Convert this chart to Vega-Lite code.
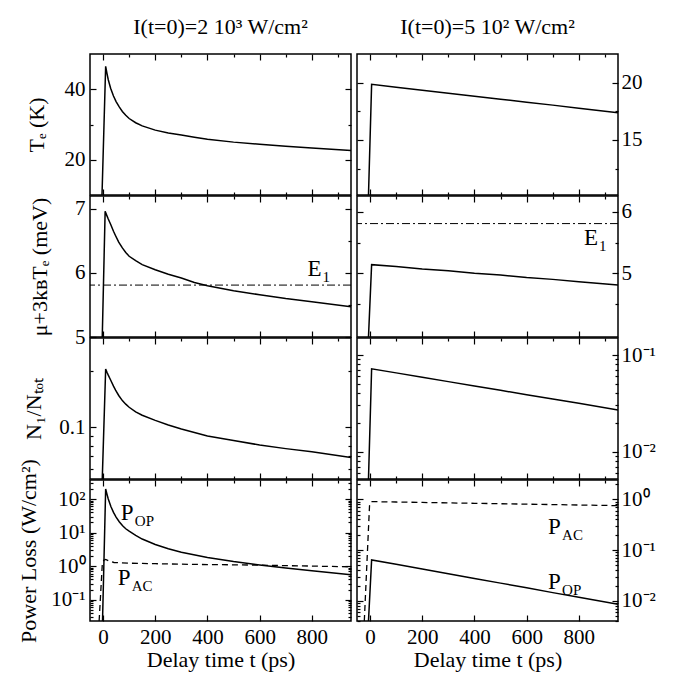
{
  "$schema": "https://vega.github.io/schema/vega-lite/v6.json",
  "padding": {"left": 16, "top": 15, "right": 5, "bottom": 5},
  "background": "white",
  "config": {
    "font": "Liberation Serif",
    "view": {"stroke": "black", "strokeWidth": 1.5},
    "axis": {"domain": false, "grid": false, "labelFont": "Liberation Serif", "titleFont": "Liberation Serif", "labelFontSize": 21, "titleFontSize": 22, "titleFontWeight": "normal", "labelColor": "black", "titleColor": "black", "tickColor": "black", "tickWidth": 1.2, "labelPadding": 11, "titlePadding": 4},
    "title": {"font": "Liberation Serif", "fontSize": 22, "fontWeight": "normal", "color": "black", "anchor": "middle", "frame": "group", "offset": 14},
    "text": {"font": "Liberation Serif", "color": "black"}
  },
  "datasets": {
    "L_TE": [{"t":-4,"v":10},{"t":10,"v":46.5},{"t":15,"v":44.5},{"t":20,"v":42.7},{"t":29,"v":40.3},{"t":40,"v":38.1},{"t":50,"v":36.5},{"t":62,"v":35.0},{"t":74,"v":33.7},{"t":87,"v":32.6},{"t":100,"v":31.7},{"t":125,"v":30.5},{"t":150,"v":29.6},{"t":200,"v":28.4},{"t":250,"v":27.6},{"t":300,"v":27.0},{"t":350,"v":26.4},{"t":400,"v":25.8},{"t":500,"v":25.0},{"t":600,"v":24.4},{"t":700,"v":23.8},{"t":800,"v":23.3},{"t":950,"v":22.6}],
    "L_MU": [{"t":-3,"v":5.0},{"t":8,"v":6.96},{"t":15,"v":6.89},{"t":20,"v":6.84},{"t":29,"v":6.76},{"t":40,"v":6.65},{"t":48,"v":6.58},{"t":60,"v":6.48},{"t":74,"v":6.39},{"t":87,"v":6.32},{"t":100,"v":6.26},{"t":125,"v":6.19},{"t":150,"v":6.13},{"t":200,"v":6.05},{"t":250,"v":5.98},{"t":300,"v":5.92},{"t":350,"v":5.85},{"t":400,"v":5.8},{"t":500,"v":5.72},{"t":600,"v":5.66},{"t":700,"v":5.6},{"t":800,"v":5.55},{"t":950,"v":5.47}],
    "L_N1": [{"t":-3,"v":0.053},{"t":10,"v":0.205},{"t":15,"v":0.197},{"t":20,"v":0.19},{"t":29,"v":0.179},{"t":40,"v":0.166},{"t":48,"v":0.158},{"t":60,"v":0.148},{"t":74,"v":0.139},{"t":87,"v":0.133},{"t":100,"v":0.128},{"t":125,"v":0.121},{"t":150,"v":0.116},{"t":200,"v":0.109},{"t":250,"v":0.103},{"t":300,"v":0.098},{"t":400,"v":0.09},{"t":500,"v":0.085},{"t":600,"v":0.0805},{"t":700,"v":0.077},{"t":800,"v":0.074},{"t":950,"v":0.069}],
    "L_POP": [{"t":-2,"v":0.023},{"t":10,"v":200},{"t":15,"v":140},{"t":20,"v":100},{"t":30,"v":60},{"t":40,"v":40},{"t":50,"v":29},{"t":62,"v":21},{"t":75,"v":16},{"t":87,"v":13},{"t":100,"v":11},{"t":125,"v":8.2},{"t":150,"v":6.4},{"t":200,"v":4.4},{"t":250,"v":3.3},{"t":300,"v":2.6},{"t":400,"v":1.8},{"t":500,"v":1.36},{"t":600,"v":1.08},{"t":700,"v":0.88},{"t":800,"v":0.72},{"t":950,"v":0.55}],
    "L_PAC": [{"t":-15,"v":0.023},{"t":-3,"v":1.1},{"t":3,"v":1.5},{"t":10,"v":1.58},{"t":20,"v":1.45},{"t":42,"v":1.28},{"t":100,"v":1.22},{"t":200,"v":1.18},{"t":300,"v":1.14},{"t":400,"v":1.11},{"t":500,"v":1.09},{"t":600,"v":1.07},{"t":700,"v":1.03},{"t":800,"v":1.0},{"t":950,"v":0.95}],
    "R_TE": [{"t":-6,"v":10.2},{"t":6,"v":19.85},{"t":100,"v":19.6},{"t":200,"v":19.34},{"t":300,"v":19.08},{"t":400,"v":18.82},{"t":500,"v":18.56},{"t":600,"v":18.3},{"t":700,"v":18.04},{"t":800,"v":17.77},{"t":950,"v":17.38}],
    "R_MU": [{"t":-6,"v":3.96},{"t":6,"v":5.14},{"t":100,"v":5.11},{"t":200,"v":5.07},{"t":300,"v":5.04},{"t":400,"v":5.0},{"t":500,"v":4.97},{"t":600,"v":4.93},{"t":700,"v":4.9},{"t":800,"v":4.86},{"t":950,"v":4.81}],
    "R_N1": [{"t":-6,"v":0.0052},{"t":6,"v":0.0719},{"t":100,"v":0.0653},{"t":200,"v":0.0589},{"t":300,"v":0.053},{"t":400,"v":0.0478},{"t":500,"v":0.0431},{"t":600,"v":0.0388},{"t":700,"v":0.035},{"t":800,"v":0.0316},{"t":950,"v":0.027}],
    "R_POP": [{"t":-6,"v":0.004},{"t":6,"v":0.064},{"t":100,"v":0.0524},{"t":200,"v":0.0423},{"t":300,"v":0.0341},{"t":400,"v":0.0276},{"t":500,"v":0.0223},{"t":600,"v":0.018},{"t":700,"v":0.0145},{"t":800,"v":0.0117},{"t":950,"v":0.0085}],
    "R_PAC": [{"t":-22,"v":0.004},{"t":-2,"v":0.75},{"t":5,"v":0.9},{"t":100,"v":0.884},{"t":200,"v":0.867},{"t":300,"v":0.85},{"t":400,"v":0.834},{"t":500,"v":0.818},{"t":600,"v":0.802},{"t":700,"v":0.787},{"t":800,"v":0.772},{"t":950,"v":0.75}],
    "E1": [{"v":5.81}],
    "L_E1lab": [{"t":783,"v":6.06,"main":"E","sub":"1"}],
    "R_E1lab": [{"t":820,"v":5.57,"main":"E","sub":"1"}],
    "L_Plab": [{"t":68,"v":38,"main":"P","sub":"OP"},{"t":56,"v":0.45,"main":"P","sub":"AC"}],
    "R_Plab": [{"t":682,"v":0.29,"main":"P","sub":"AC"},{"t":682,"v":0.024,"main":"P","sub":"OP"}]
  },
  "hconcat": [
    {
      "spacing": 1,
      "bounds": "flush",
      "vconcat": [
        {
          "title": {"text": "I(t=0)=2 10³ W/cm²", "font": "Liberation Serif", "fontSize": 22},
          "width": 261, "height": 141,
          "layer": [
            {"layer": [
              {"data": {"name": "L_TE"}, "mark": {"type": "line", "color": "black", "strokeWidth": 1.5, "clip": true},
               "encoding": {
                 "x": {"field": "t", "type": "quantitative", "scale": {"domain": [-50, 950]}, "axis": {"orient": "bottom", "values": [0,100,200,300,400,500,600,700,800,900], "labels": false, "title": null, "tickSize": {"condition": {"test": "datum.value % 200 === 0", "value": -6}, "value": -3}}},
                 "y": {"field": "v", "type": "quantitative", "scale": {"domain": [10, 50]}, "axis": {"orient": "left", "values": [20,30,40], "labelExpr": "datum.value % 20 === 0 ? format(datum.value, 'd') : ''", "title": "Tₑ (K)", "titleX": -54, "titleBaseline": "middle", "tickSize": {"condition": {"test": "datum.value % 20 === 0", "value": -6}, "value": -3}}}
               }}
            ]},
            {"data": {"name": "L_TE"}, "mark": {"type": "line", "strokeOpacity": 0},
             "encoding": {
               "x": {"field": "t", "type": "quantitative", "scale": {"domain": [-50, 950]}, "axis": {"orient": "top", "values": [0,100,200,300,400,500,600,700,800,900], "labels": false, "title": null, "tickSize": {"condition": {"test": "datum.value % 200 === 0", "value": -6}, "value": -3}}},
               "y": {"field": "v", "type": "quantitative", "scale": {"domain": [10, 50]}, "axis": {"orient": "right", "values": [20,30,40], "labels": false, "title": null, "tickSize": {"condition": {"test": "datum.value % 20 === 0", "value": -6}, "value": -3}}}
             }}
          ],
          "resolve": {"scale": {"x": "independent", "y": "independent"}}
        },
        {
          "width": 261, "height": 141,
          "layer": [
            {"layer": [
              {"data": {"name": "L_MU"}, "mark": {"type": "line", "color": "black", "strokeWidth": 1.5, "clip": true},
               "encoding": {
                 "x": {"field": "t", "type": "quantitative", "scale": {"domain": [-50, 950]}, "axis": {"orient": "bottom", "values": [0,100,200,300,400,500,600,700,800,900], "labels": false, "title": null, "tickSize": {"condition": {"test": "datum.value % 200 === 0", "value": -6}, "value": -3}}},
                 "y": {"field": "v", "type": "quantitative", "scale": {"domain": [5, 7.2]}, "axis": {"orient": "left", "values": [5,5.5,6,6.5,7], "labelExpr": "datum.value % 1 === 0 ? format(datum.value, 'd') : ''", "title": "μ+3kʙTₑ (meV)", "titleX": -51, "titleBaseline": "middle", "tickSize": {"condition": {"test": "datum.value % 1 === 0", "value": -6}, "value": -3}}}
               }},
              {"data": {"name": "E1"}, "mark": {"type": "rule", "color": "black", "strokeWidth": 1, "strokeDash": [8, 3, 2, 3]},
               "encoding": {"y": {"field": "v", "type": "quantitative", "scale": {"domain": [5, 7.2]}}}},
              {"data": {"name": "L_E1lab"}, "mark": {"type": "text", "align": "left", "baseline": "middle", "fontSize": 23},
               "encoding": {"x": {"field": "t", "type": "quantitative", "scale": {"domain": [-50, 950]}}, "y": {"field": "v", "type": "quantitative", "scale": {"domain": [5, 7.2]}}, "text": {"field": "main"}}},
              {"data": {"name": "L_E1lab"}, "mark": {"type": "text", "align": "left", "baseline": "middle", "fontSize": 15, "dx": 15, "dy": 8},
               "encoding": {"x": {"field": "t", "type": "quantitative", "scale": {"domain": [-50, 950]}}, "y": {"field": "v", "type": "quantitative", "scale": {"domain": [5, 7.2]}}, "text": {"field": "sub"}}}
            ]},
            {"data": {"name": "L_MU"}, "mark": {"type": "line", "strokeOpacity": 0},
             "encoding": {
               "x": {"field": "t", "type": "quantitative", "scale": {"domain": [-50, 950]}, "axis": {"orient": "top", "values": [0,100,200,300,400,500,600,700,800,900], "labels": false, "title": null, "tickSize": {"condition": {"test": "datum.value % 200 === 0", "value": -6}, "value": -3}}},
               "y": {"field": "v", "type": "quantitative", "scale": {"domain": [5, 7.2]}, "axis": {"orient": "right", "values": [5,5.5,6,6.5,7], "labels": false, "title": null, "tickSize": {"condition": {"test": "datum.value % 1 === 0", "value": -6}, "value": -3}}}
             }}
          ],
          "resolve": {"scale": {"x": "independent", "y": "independent"}}
        },
        {
          "width": 261, "height": 141,
          "layer": [
            {"layer": [
              {"data": {"name": "L_N1"}, "mark": {"type": "line", "color": "black", "strokeWidth": 1.5, "clip": true},
               "encoding": {
                 "x": {"field": "t", "type": "quantitative", "scale": {"domain": [-50, 950]}, "axis": {"orient": "bottom", "values": [0,100,200,300,400,500,600,700,800,900], "labels": false, "title": null, "tickSize": {"condition": {"test": "datum.value % 200 === 0", "value": -6}, "value": -3}}},
                 "y": {"field": "v", "type": "quantitative", "scale": {"type": "log", "domain": [0.053, 0.3]}, "axis": {"orient": "left", "values": [0.06,0.07,0.08,0.09,0.1,0.2], "labelExpr": "datum.value === 0.1 ? '0.1' : ''", "title": "N₁/Nₜₒₜ", "titleX": -57, "titleBaseline": "middle", "tickSize": {"condition": {"test": "datum.value === 0.1", "value": -6}, "value": -3}}}
               }}
            ]},
            {"data": {"name": "L_N1"}, "mark": {"type": "line", "strokeOpacity": 0},
             "encoding": {
               "x": {"field": "t", "type": "quantitative", "scale": {"domain": [-50, 950]}, "axis": {"orient": "top", "values": [0,100,200,300,400,500,600,700,800,900], "labels": false, "title": null, "tickSize": {"condition": {"test": "datum.value % 200 === 0", "value": -6}, "value": -3}}},
               "y": {"field": "v", "type": "quantitative", "scale": {"type": "log", "domain": [0.053, 0.3]}, "axis": {"orient": "right", "values": [0.06,0.07,0.08,0.09,0.1,0.2], "labels": false, "title": null, "tickSize": {"condition": {"test": "datum.value === 0.1", "value": -6}, "value": -3}}}
             }}
          ],
          "resolve": {"scale": {"x": "independent", "y": "independent"}}
        },
        {
          "width": 261, "height": 141,
          "layer": [
            {"layer": [
              {"data": {"name": "L_POP"}, "mark": {"type": "line", "color": "black", "strokeWidth": 1.5, "clip": true},
               "encoding": {
                 "x": {"field": "t", "type": "quantitative", "scale": {"domain": [-50, 950]}, "axis": {"orient": "bottom", "values": [0,100,200,300,400,500,600,700,800,900], "labelExpr": "datum.value % 200 === 0 ? format(datum.value, 'd') : ''", "labelPadding": 11, "title": "Delay time t (ps)", "titlePadding": 2, "tickSize": {"condition": {"test": "datum.value % 200 === 0", "value": -6}, "value": -3}}},
                 "y": {"field": "v", "type": "quantitative", "scale": {"type": "log", "domain": [0.023, 370]}, "axis": {"orient": "left", "values": [0.03,0.04,0.05,0.06,0.07,0.08,0.09,0.1,0.2,0.3,0.4,0.5,0.6,0.7,0.8,0.9,1,2,3,4,5,6,7,8,9,10,20,30,40,50,60,70,80,90,100,200,300], "labelExpr": "datum.value === 100 ? '10²' : datum.value === 10 ? '10¹' : datum.value === 1 ? '10⁰' : datum.value === 0.1 ? '10⁻¹' : ''", "title": "Power Loss (W/cm²)", "titleX": -62, "titleBaseline": "middle", "tickSize": {"condition": {"test": "indexof([0.01,0.1,1,10,100], datum.value) >= 0", "value": -6}, "value": -3}}}
               }},
              {"data": {"name": "L_PAC"}, "mark": {"type": "line", "color": "black", "strokeWidth": 1.3, "strokeDash": [6, 4], "clip": true},
               "encoding": {"x": {"field": "t", "type": "quantitative", "scale": {"domain": [-50, 950]}}, "y": {"field": "v", "type": "quantitative", "scale": {"type": "log", "domain": [0.023, 370]}}}},
              {"data": {"name": "L_Plab"}, "mark": {"type": "text", "align": "left", "baseline": "middle", "fontSize": 23},
               "encoding": {"x": {"field": "t", "type": "quantitative", "scale": {"domain": [-50, 950]}}, "y": {"field": "v", "type": "quantitative", "scale": {"type": "log", "domain": [0.023, 370]}}, "text": {"field": "main"}}},
              {"data": {"name": "L_Plab"}, "mark": {"type": "text", "align": "left", "baseline": "middle", "fontSize": 15, "dx": 14, "dy": 8},
               "encoding": {"x": {"field": "t", "type": "quantitative", "scale": {"domain": [-50, 950]}}, "y": {"field": "v", "type": "quantitative", "scale": {"type": "log", "domain": [0.023, 370]}}, "text": {"field": "sub"}}}
            ]},
            {"data": {"name": "L_POP"}, "mark": {"type": "line", "strokeOpacity": 0},
             "encoding": {
               "x": {"field": "t", "type": "quantitative", "scale": {"domain": [-50, 950]}, "axis": {"orient": "top", "values": [0,100,200,300,400,500,600,700,800,900], "labels": false, "title": null, "tickSize": {"condition": {"test": "datum.value % 200 === 0", "value": -6}, "value": -3}}},
               "y": {"field": "v", "type": "quantitative", "scale": {"type": "log", "domain": [0.023, 370]}, "axis": {"orient": "right", "values": [0.03,0.04,0.05,0.06,0.07,0.08,0.09,0.1,0.2,0.3,0.4,0.5,0.6,0.7,0.8,0.9,1,2,3,4,5,6,7,8,9,10,20,30,40,50,60,70,80,90,100,200,300], "labels": false, "title": null, "tickSize": {"condition": {"test": "indexof([0.01,0.1,1,10,100], datum.value) >= 0", "value": -6}, "value": -3}}}
             }}
          ],
          "resolve": {"scale": {"x": "independent", "y": "independent"}}
        }
      ]
    },
    {
      "spacing": 1,
      "bounds": "flush",
      "vconcat": [
        {
          "title": {"text": "I(t=0)=5 10² W/cm²", "font": "Liberation Serif", "fontSize": 22},
          "width": 261, "height": 141,
          "layer": [
            {"layer": [
              {"data": {"name": "R_TE"}, "mark": {"type": "line", "color": "black", "strokeWidth": 1.5, "clip": true},
               "encoding": {
                 "x": {"field": "t", "type": "quantitative", "scale": {"domain": [-50, 950]}, "axis": {"orient": "bottom", "values": [0,100,200,300,400,500,600,700,800,900], "labels": false, "title": null, "tickSize": {"condition": {"test": "datum.value % 200 === 0", "value": -6}, "value": -3}}},
                 "y": {"field": "v", "type": "quantitative", "scale": {"domain": [10.2, 22.5]}, "axis": {"orient": "right", "values": [12.5,15,17.5,20], "labelExpr": "datum.value % 5 === 0 ? format(datum.value, 'd') : ''", "labelPadding": 9, "title": null, "tickSize": {"condition": {"test": "datum.value % 5 === 0", "value": -6}, "value": -3}}}
               }}
            ]},
            {"data": {"name": "R_TE"}, "mark": {"type": "line", "strokeOpacity": 0},
             "encoding": {
               "x": {"field": "t", "type": "quantitative", "scale": {"domain": [-50, 950]}, "axis": {"orient": "top", "values": [0,100,200,300,400,500,600,700,800,900], "labels": false, "title": null, "tickSize": {"condition": {"test": "datum.value % 200 === 0", "value": -6}, "value": -3}}},
               "y": {"field": "v", "type": "quantitative", "scale": {"domain": [10.2, 22.5]}, "axis": {"orient": "left", "values": [12.5,15,17.5,20], "labels": false, "title": null, "tickSize": {"condition": {"test": "datum.value % 5 === 0", "value": -6}, "value": -3}}}
             }}
          ],
          "resolve": {"scale": {"x": "independent", "y": "independent"}}
        },
        {
          "width": 261, "height": 141,
          "layer": [
            {"layer": [
              {"data": {"name": "R_MU"}, "mark": {"type": "line", "color": "black", "strokeWidth": 1.5, "clip": true},
               "encoding": {
                 "x": {"field": "t", "type": "quantitative", "scale": {"domain": [-50, 950]}, "axis": {"orient": "bottom", "values": [0,100,200,300,400,500,600,700,800,900], "labels": false, "title": null, "tickSize": {"condition": {"test": "datum.value % 200 === 0", "value": -6}, "value": -3}}},
                 "y": {"field": "v", "type": "quantitative", "scale": {"domain": [3.96, 6.26]}, "axis": {"orient": "right", "values": [4.5,5,5.5,6], "labelExpr": "datum.value % 1 === 0 ? format(datum.value, 'd') : ''", "labelPadding": 9, "title": null, "tickSize": {"condition": {"test": "datum.value % 1 === 0", "value": -6}, "value": -3}}}
               }},
              {"data": {"name": "E1"}, "mark": {"type": "rule", "color": "black", "strokeWidth": 1, "strokeDash": [8, 3, 2, 3]},
               "encoding": {"y": {"field": "v", "type": "quantitative", "scale": {"domain": [3.96, 6.26]}}}},
              {"data": {"name": "R_E1lab"}, "mark": {"type": "text", "align": "left", "baseline": "middle", "fontSize": 23},
               "encoding": {"x": {"field": "t", "type": "quantitative", "scale": {"domain": [-50, 950]}}, "y": {"field": "v", "type": "quantitative", "scale": {"domain": [3.96, 6.26]}}, "text": {"field": "main"}}},
              {"data": {"name": "R_E1lab"}, "mark": {"type": "text", "align": "left", "baseline": "middle", "fontSize": 15, "dx": 15, "dy": 8},
               "encoding": {"x": {"field": "t", "type": "quantitative", "scale": {"domain": [-50, 950]}}, "y": {"field": "v", "type": "quantitative", "scale": {"domain": [3.96, 6.26]}}, "text": {"field": "sub"}}}
            ]},
            {"data": {"name": "R_MU"}, "mark": {"type": "line", "strokeOpacity": 0},
             "encoding": {
               "x": {"field": "t", "type": "quantitative", "scale": {"domain": [-50, 950]}, "axis": {"orient": "top", "values": [0,100,200,300,400,500,600,700,800,900], "labels": false, "title": null, "tickSize": {"condition": {"test": "datum.value % 200 === 0", "value": -6}, "value": -3}}},
               "y": {"field": "v", "type": "quantitative", "scale": {"domain": [3.96, 6.26]}, "axis": {"orient": "left", "values": [4.5,5,5.5,6], "labels": false, "title": null, "tickSize": {"condition": {"test": "datum.value % 1 === 0", "value": -6}, "value": -3}}}
             }}
          ],
          "resolve": {"scale": {"x": "independent", "y": "independent"}}
        },
        {
          "width": 261, "height": 141,
          "layer": [
            {"layer": [
              {"data": {"name": "R_N1"}, "mark": {"type": "line", "color": "black", "strokeWidth": 1.5, "clip": true},
               "encoding": {
                 "x": {"field": "t", "type": "quantitative", "scale": {"domain": [-50, 950]}, "axis": {"orient": "bottom", "values": [0,100,200,300,400,500,600,700,800,900], "labels": false, "title": null, "tickSize": {"condition": {"test": "datum.value % 200 === 0", "value": -6}, "value": -3}}},
                 "y": {"field": "v", "type": "quantitative", "scale": {"type": "log", "domain": [0.0052, 0.15]}, "axis": {"orient": "right", "values": [0.006,0.007,0.008,0.009,0.01,0.02,0.03,0.04,0.05,0.06,0.07,0.08,0.09,0.1], "labelExpr": "datum.value === 0.1 ? '10⁻¹' : datum.value === 0.01 ? '10⁻²' : ''", "labelPadding": 9, "title": null, "tickSize": {"condition": {"test": "indexof([0.01,0.1,1,10,100], datum.value) >= 0", "value": -6}, "value": -3}}}
               }}
            ]},
            {"data": {"name": "R_N1"}, "mark": {"type": "line", "strokeOpacity": 0},
             "encoding": {
               "x": {"field": "t", "type": "quantitative", "scale": {"domain": [-50, 950]}, "axis": {"orient": "top", "values": [0,100,200,300,400,500,600,700,800,900], "labels": false, "title": null, "tickSize": {"condition": {"test": "datum.value % 200 === 0", "value": -6}, "value": -3}}},
               "y": {"field": "v", "type": "quantitative", "scale": {"type": "log", "domain": [0.0052, 0.15]}, "axis": {"orient": "left", "values": [0.006,0.007,0.008,0.009,0.01,0.02,0.03,0.04,0.05,0.06,0.07,0.08,0.09,0.1], "labels": false, "title": null, "tickSize": {"condition": {"test": "indexof([0.01,0.1,1,10,100], datum.value) >= 0", "value": -6}, "value": -3}}}
             }}
          ],
          "resolve": {"scale": {"x": "independent", "y": "independent"}}
        },
        {
          "width": 261, "height": 141,
          "layer": [
            {"layer": [
              {"data": {"name": "R_POP"}, "mark": {"type": "line", "color": "black", "strokeWidth": 1.5, "clip": true},
               "encoding": {
                 "x": {"field": "t", "type": "quantitative", "scale": {"domain": [-50, 950]}, "axis": {"orient": "bottom", "values": [0,100,200,300,400,500,600,700,800,900], "labelExpr": "datum.value % 200 === 0 ? format(datum.value, 'd') : ''", "labelPadding": 11, "title": "Delay time t (ps)", "titlePadding": 2, "tickSize": {"condition": {"test": "datum.value % 200 === 0", "value": -6}, "value": -3}}},
                 "y": {"field": "v", "type": "quantitative", "scale": {"type": "log", "domain": [0.004, 2.4]}, "axis": {"orient": "right", "values": [0.004,0.005,0.006,0.007,0.008,0.009,0.01,0.02,0.03,0.04,0.05,0.06,0.07,0.08,0.09,0.1,0.2,0.3,0.4,0.5,0.6,0.7,0.8,0.9,1,2], "labelExpr": "datum.value === 1 ? '10⁰' : datum.value === 0.1 ? '10⁻¹' : datum.value === 0.01 ? '10⁻²' : ''", "labelPadding": 9, "title": null, "tickSize": {"condition": {"test": "indexof([0.01,0.1,1,10,100], datum.value) >= 0", "value": -6}, "value": -3}}}
               }},
              {"data": {"name": "R_PAC"}, "mark": {"type": "line", "color": "black", "strokeWidth": 1.3, "strokeDash": [6, 4], "clip": true},
               "encoding": {"x": {"field": "t", "type": "quantitative", "scale": {"domain": [-50, 950]}}, "y": {"field": "v", "type": "quantitative", "scale": {"type": "log", "domain": [0.004, 2.4]}}}},
              {"data": {"name": "R_Plab"}, "mark": {"type": "text", "align": "left", "baseline": "middle", "fontSize": 23},
               "encoding": {"x": {"field": "t", "type": "quantitative", "scale": {"domain": [-50, 950]}}, "y": {"field": "v", "type": "quantitative", "scale": {"type": "log", "domain": [0.004, 2.4]}}, "text": {"field": "main"}}},
              {"data": {"name": "R_Plab"}, "mark": {"type": "text", "align": "left", "baseline": "middle", "fontSize": 15, "dx": 14, "dy": 8},
               "encoding": {"x": {"field": "t", "type": "quantitative", "scale": {"domain": [-50, 950]}}, "y": {"field": "v", "type": "quantitative", "scale": {"type": "log", "domain": [0.004, 2.4]}}, "text": {"field": "sub"}}}
            ]},
            {"data": {"name": "R_POP"}, "mark": {"type": "line", "strokeOpacity": 0},
             "encoding": {
               "x": {"field": "t", "type": "quantitative", "scale": {"domain": [-50, 950]}, "axis": {"orient": "top", "values": [0,100,200,300,400,500,600,700,800,900], "labels": false, "title": null, "tickSize": {"condition": {"test": "datum.value % 200 === 0", "value": -6}, "value": -3}}},
               "y": {"field": "v", "type": "quantitative", "scale": {"type": "log", "domain": [0.004, 2.4]}, "axis": {"orient": "left", "values": [0.004,0.005,0.006,0.007,0.008,0.009,0.01,0.02,0.03,0.04,0.05,0.06,0.07,0.08,0.09,0.1,0.2,0.3,0.4,0.5,0.6,0.7,0.8,0.9,1,2], "labels": false, "title": null, "tickSize": {"condition": {"test": "indexof([0.01,0.1,1,10,100], datum.value) >= 0", "value": -6}, "value": -3}}}
             }}
          ],
          "resolve": {"scale": {"x": "independent", "y": "independent"}}
        }
      ]
    }
  ],
  "spacing": 2
}
